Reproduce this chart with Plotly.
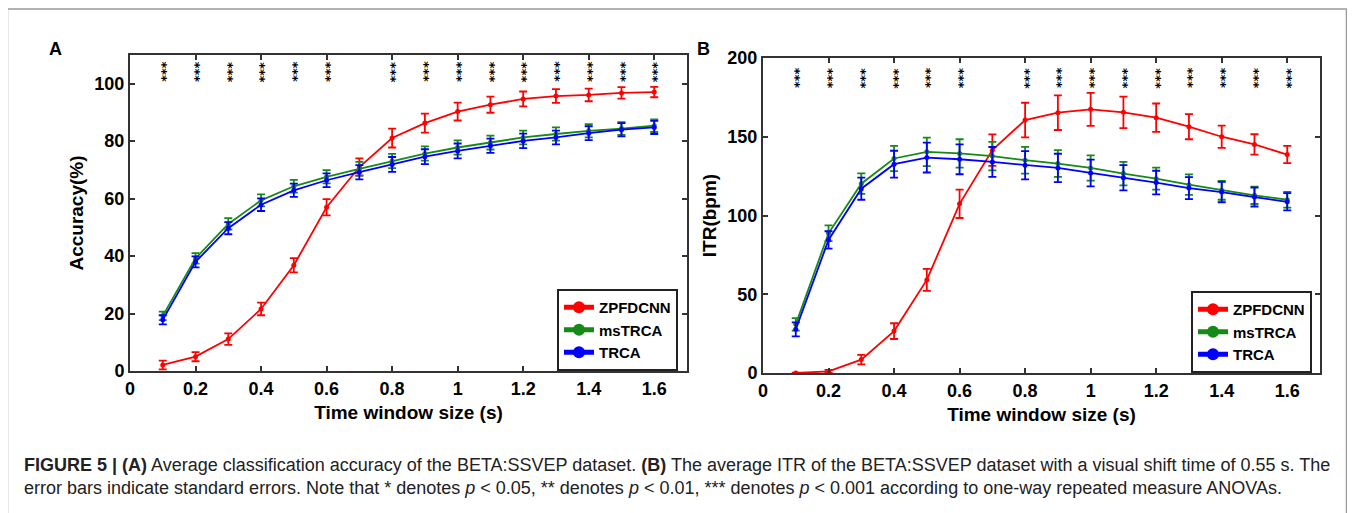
import plotly.graph_objects as go

# ---------------- data ----------------
time_window = [0.1, 0.2, 0.3, 0.4, 0.5, 0.6, 0.7, 0.8, 0.9, 1.0, 1.1, 1.2, 1.3, 1.4, 1.5, 1.6]

acc_zpfdcnn = [2.1, 5.0, 11.1, 21.6, 36.8, 57.0, 71.0, 81.1, 86.3, 90.3, 92.7, 94.7, 95.7, 96.1, 96.8, 97.1]
acc_zpfdcnn_se = [1.5, 1.6, 2.0, 2.2, 2.5, 2.8, 3.0, 3.3, 3.3, 3.1, 2.8, 2.6, 2.4, 2.2, 2.0, 1.8]
acc_mstrca = [19.2, 39.2, 51.2, 59.4, 64.3, 67.6, 70.4, 73.1, 75.7, 77.8, 79.5, 81.3, 82.5, 83.6, 84.4, 85.4]
acc_mstrca_se = [1.5, 1.8, 2.0, 2.1, 2.2, 2.3, 2.4, 2.5, 2.5, 2.5, 2.4, 2.4, 2.3, 2.3, 2.2, 2.2]
acc_trca = [17.8, 38.0, 49.7, 57.9, 62.9, 66.4, 69.2, 71.9, 74.6, 76.6, 78.4, 80.1, 81.3, 82.8, 84.0, 84.8]
acc_trca_se = [1.6, 1.9, 2.1, 2.2, 2.3, 2.4, 2.5, 2.6, 2.6, 2.6, 2.5, 2.5, 2.4, 2.4, 2.3, 2.3]

itr_zpfdcnn = [0.0, 1.0, 8.5, 26.6, 59.1, 107.4, 141.5, 160.6, 165.3, 167.4, 165.5, 162.1, 156.4, 150.0, 145.1, 138.7]
itr_zpfdcnn_se = [0.3, 1.0, 3.0, 5.0, 7.0, 9.0, 10.0, 11.0, 11.0, 10.5, 10.0, 9.0, 8.0, 7.0, 6.5, 5.5]
itr_mstrca = [30.9, 88.7, 120.2, 136.2, 140.4, 139.4, 137.7, 135.1, 133.0, 130.2, 126.6, 123.4, 119.6, 116.0, 112.8, 110.0]
itr_mstrca_se = [4.0, 5.0, 6.5, 8.0, 9.0, 9.0, 9.0, 8.5, 8.5, 8.0, 7.5, 7.0, 6.5, 6.0, 5.5, 5.0]
itr_trca = [27.7, 84.5, 117.0, 132.6, 136.8, 135.7, 134.0, 131.9, 130.2, 127.0, 124.0, 120.9, 117.4, 114.9, 111.7, 108.7]
itr_trca_se = [4.5, 5.5, 7.0, 8.5, 9.5, 9.5, 9.5, 9.0, 9.0, 8.5, 8.0, 7.5, 7.0, 6.5, 6.0, 5.5]

star_x = [0.1, 0.2, 0.3, 0.4, 0.5, 0.6, 0.8, 0.9, 1.0, 1.1, 1.2, 1.3, 1.4, 1.5, 1.6]
star_label = "***"
star_y_acc = 104.0
star_y_itr = 187.0

methods = ["ZPFDCNN", "msTRCA", "TRCA"]
colors = ["#ff0000", "#168a16", "#0000ff"]

x_ticks = [0, 0.2, 0.4, 0.6, 0.8, 1.0, 1.2, 1.4, 1.6]
acc_ticks = [0, 20, 40, 60, 80, 100]
itr_ticks = [0, 50, 100, 150, 200]

# ---------------- layout helpers (page pixel -> paper) ----------------
# the page body has an 8px margin, so the figure starts at (8, 8)
OFF = 8
W, H = 1347, 505
def px(x):
    return (x - OFF) / W
def py(y):
    return 1 - (y - OFF) / H

FONT = "Liberation Sans, Arial, sans-serif"

fig = go.Figure()

acc_series = [(acc_zpfdcnn, acc_zpfdcnn_se), (acc_mstrca, acc_mstrca_se), (acc_trca, acc_trca_se)]
itr_series = [(itr_zpfdcnn, itr_zpfdcnn_se), (itr_mstrca, itr_mstrca_se), (itr_trca, itr_trca_se)]

for name, col, (v, e) in zip(methods, colors, acc_series):
    fig.add_trace(go.Scatter(
        x=time_window, y=v, name=name, mode="lines+markers",
        line=dict(color=col, width=1.8), marker=dict(color=col, size=5),
        error_y=dict(type="data", array=e, visible=True, color=col, thickness=1.8, width=4),
        xaxis="x", yaxis="y", legend="legend"))

for name, col, (v, e) in zip(methods, colors, itr_series):
    fig.add_trace(go.Scatter(
        x=time_window, y=v, name=name, mode="lines+markers",
        line=dict(color=col, width=1.8), marker=dict(color=col, size=5),
        error_y=dict(type="data", array=e, visible=True, color=col, thickness=1.8, width=4),
        xaxis="x2", yaxis="y2", legend="legend2"))

annotations = []
STAR_FONT = dict(family="DejaVu Sans, sans-serif", size=13, color="black", weight=700)
for sx in star_x:
    annotations.append(dict(x=sx, y=star_y_acc, xref="x", yref="y", text=star_label,
                            textangle=90, showarrow=False, font=STAR_FONT))
    annotations.append(dict(x=sx, y=star_y_itr, xref="x2", yref="y2", text=star_label,
                            textangle=90, showarrow=False, font=STAR_FONT))

# panel letters
annotations.append(dict(x=px(47), y=py(37), xref="paper", yref="paper", text="<b>A</b>",
                        showarrow=False, font=dict(family=FONT, size=18, color="black")))
annotations.append(dict(x=px(703), y=py(37), xref="paper", yref="paper", text="<b>B</b>",
                        showarrow=False, font=dict(family=FONT, size=18, color="black")))

# caption
CAP_FONT = "Liberation Sans, Arial, sans-serif"
cap1 = ("<b>FIGURE 5 | (A)</b> Average classification accuracy of the BETA:SSVEP dataset. "
        "<b>(B)</b> The average ITR of the BETA:SSVEP dataset with a visual shift time of 0.55 s. The")
cap2 = ("error bars indicate standard errors. Note that * denotes <i>p</i> &lt; 0.05, ** denotes "
        "<i>p</i> &lt; 0.01, *** denotes <i>p</i> &lt; 0.001 according to one-way repeated measure ANOVAs.")
annotations.append(dict(x=px(22), y=py(465), xref="paper", yref="paper", text=cap1,
                        xanchor="left", yanchor="middle", showarrow=False, align="left",
                        font=dict(family=CAP_FONT, size=18, color="#222")))
annotations.append(dict(x=px(22), y=py(488), xref="paper", yref="paper", text=cap2,
                        xanchor="left", yanchor="middle", showarrow=False, align="left",
                        font=dict(family=CAP_FONT, size=18, color="#222")))

axis_common = dict(showline=True, linecolor="#333", linewidth=2, mirror="ticks",
                   ticks="inside", ticklen=5, tickwidth=1.5, tickcolor="#333",
                   showgrid=False, zeroline=False, automargin=False,
                   tickfont=dict(family=FONT, size=18, color="black", weight=700))

title_font = dict(family=FONT, size=19, color="black", weight=700)

legend_common = dict(xanchor="left", yanchor="top",
                     bordercolor="#222", borderwidth=2, bgcolor="white",
                     font=dict(family=FONT, size=15, color="black", weight=700),
                     tracegroupgap=0, itemsizing="constant", itemwidth=30)

fig.update_layout(
    width=W, height=H,
    margin=dict(l=0, r=0, t=0, b=0),
    paper_bgcolor="white", plot_bgcolor="white",
    xaxis=dict(domain=[px(130), px(687)], range=[0, 1.7], tickvals=x_ticks,
               anchor="y", title=dict(text="Time window size (s)", font=title_font, standoff=8),
               **axis_common),
    yaxis=dict(domain=[py(371), py(55)], range=[0, 110], tickvals=acc_ticks,
               anchor="x", title=dict(text="Accuracy(%)", font=title_font, standoff=6),
               **axis_common),
    xaxis2=dict(domain=[px(763), px(1320)], range=[0, 1.7], tickvals=x_ticks,
                anchor="y2", title=dict(text="Time window size (s)", font=title_font, standoff=8),
                **axis_common),
    yaxis2=dict(domain=[py(373), py(58)], range=[0, 200], tickvals=itr_ticks,
                anchor="x2", title=dict(text="ITR(bpm)", font=title_font, standoff=6),
                **axis_common),
    legend=dict(x=px(557), y=py(289), **legend_common),
    legend2=dict(x=px(1191), y=py(291), **legend_common),
    annotations=annotations,
    shapes=[dict(type="rect", xref="paper", yref="paper",
                 x0=px(7.5), x1=px(1346.5), y0=py(530), y1=py(9),
                 line=dict(color="#9a9a9a", width=1.5))],
    showlegend=True,
)

fig.write_html("out.html")
